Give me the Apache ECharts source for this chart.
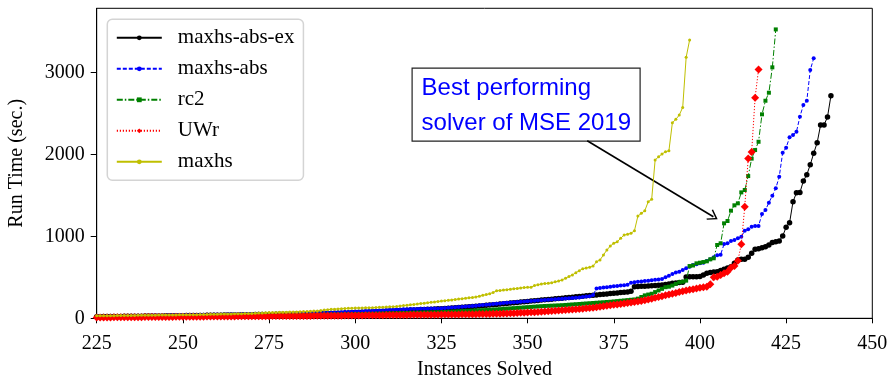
<!DOCTYPE html>
<html>
<head>
<meta charset="utf-8">
<script src="https://cdn.jsdelivr.net/npm/echarts@6/dist/echarts.min.js"></script>
<style>
  html, body { margin: 0; padding: 0; background: #fff; }
  #chart { width: 891px; height: 378px; }
</style>
</head>
<body>
<div id="chart"></div>
<script>
// Cactus plot: run time of the n-th solved instance for each solver.
// Every series starts at instance number FIRST_SOLVED and advances by one.
const FIRST_SOLVED = 225;

const solverNames = ['maxhs-abs-ex', 'maxhs-abs', 'rc2', 'UWr', 'maxhs'];

const maxhsAbsEx = [
  20,20,21,21,22,22,23,23,24,24,
  25,25,26,26,27,27,28,28,29,29,
  30,30,31,31,32,32,33,33,34,34,
  35,35,36,37,37,38,38,39,40,40,
  41,41,42,43,43,44,45,45,46,46,
  47,47,48,48,49,49,50,50,51,51,
  52,53,54,55,56,57,58,59,60,61,
  62,63,64,66,68,70,72,73,75,76,
  78,80,82,84,86,88,90,92,94,96,
  98,100,102,104,106,108,110,112,114,116,
  118,120,123,126,129,132,135,138,141,144,
  147,150,154,158,162,166,170,174,178,182,
  186,190,194,198,202,206,210,214,218,222,
  226,230,234,238,242,246,250,254,258,262,
  266,270,274,278,282,286,290,294,298,302,
  306,310,314,318,322,330,386,388,390,392,
  395,398,401,404,408,412,420,427,432,436,
  440,505,506,507,508,510,530,550,560,565,
  570,585,600,615,630,671,712,720,722,745,
  793,843,850,862,875,895,925,935,945,1005,
  1111,1167,1424,1534,1536,1676,1754,1876,2015,2144,
  2360,2362,2458,2718
];

const maxhsAbs = [
  22,23,23,24,25,25,26,27,27,28,
  29,29,30,31,31,32,33,33,34,35,
  35,36,37,37,38,39,39,40,41,41,
  42,43,43,44,45,46,47,47,48,49,
  50,50,51,52,53,53,54,55,56,56,
  57,57,58,58,59,59,60,60,61,61,
  62,63,64,65,66,67,68,69,70,72,
  74,75,77,78,80,82,84,86,88,90,
  92,94,96,98,100,102,104,106,108,110,
  112,113,114,115,116,117,118,119,120,121,
  122,125,128,131,134,137,140,143,146,150,
  154,158,162,166,170,174,178,182,186,190,
  193,196,199,202,205,208,211,214,217,220,
  223,226,229,232,235,238,241,244,247,250,
  255,260,265,270,285,365,370,375,380,385,
  390,395,400,405,410,435,440,445,450,455,
  460,465,470,475,480,500,520,540,560,570,
  590,610,630,651,659,671,679,700,720,745,
  769,777,907,916,944,956,977,996,1070,1087,
  1118,1127,1127,1273,1322,1412,1497,1587,1729,2022,
  2083,2210,2238,2279,2462,2604,2657,3032,3175
];

const rc2 = [
  15,15,16,16,17,17,18,18,19,19,
  20,20,21,21,22,22,23,23,24,24,
  25,25,26,26,27,27,28,28,29,29,
  30,30,31,31,32,32,33,33,34,34,
  35,35,35,36,36,36,37,37,37,38,
  38,38,38,39,39,39,39,40,40,40,
  41,41,42,42,43,43,44,44,45,45,
  46,46,47,48,49,50,51,52,53,54,
  55,56,57,58,59,60,61,62,63,64,
  65,66,67,68,69,70,71,72,73,74,
  75,77,79,81,83,85,87,89,91,93,
  95,97,99,101,103,106,109,112,115,118,
  121,124,127,130,133,136,139,142,145,148,
  150,152,154,156,158,160,163,166,169,172,
  175,178,181,184,187,190,193,196,199,202,
  206,210,214,218,222,226,230,240,260,280,
  290,300,320,340,360,380,386,400,420,440,
  447,460,638,645,671,679,687,696,720,733,
  895,916,1160,1188,1314,1380,1404,1538,1567,1737,
  1950,2055,2156,2491,2657,2755,3065,3528
];

const uwr = [
  10,10,11,11,11,12,12,12,13,13,
  13,14,14,14,15,15,15,16,16,16,
  17,17,17,18,18,18,19,19,19,20,
  20,20,21,21,21,22,22,22,23,23,
  23,24,24,24,25,25,25,26,26,26,
  26,27,27,27,27,28,28,28,28,28,
  29,29,29,30,30,30,31,31,31,32,
  32,32,33,33,34,34,35,35,36,36,
  37,37,38,38,39,39,40,40,41,41,
  41,42,42,42,43,43,43,44,44,44,
  45,45,46,46,47,47,48,48,49,49,
  50,51,52,53,54,55,56,57,58,59,
  61,63,65,67,69,71,73,75,77,79,
  82,85,88,91,94,97,100,103,106,110,
  114,118,122,126,130,134,140,146,152,158,
  164,170,176,182,188,194,200,206,212,220,
  230,240,250,260,270,280,290,300,310,321,
  330,340,348,356,364,372,380,386,415,500,
  508,529,549,569,618,638,703,903,1363,1953,
  2030,2694,3040
];

const maxhs = [
  30,30,31,31,32,32,33,33,34,34,
  35,35,36,36,37,37,38,38,39,39,
  40,40,41,41,42,42,43,43,44,44,
  45,46,47,48,49,50,51,52,53,54,
  55,56,57,58,59,60,62,64,66,68,
  70,71,72,73,74,75,76,77,78,80,
  82,84,86,88,90,95,100,105,110,112,
  115,118,120,122,124,125,126,127,128,129,
  130,132,134,136,138,140,142,145,150,155,
  160,165,170,175,180,185,190,195,200,205,
  210,215,220,225,230,235,240,245,250,255,
  260,270,280,290,300,315,335,340,345,350,
  355,360,365,370,375,378,380,400,410,420,
  425,427,435,445,455,468,490,510,530,557,
  581,606,614,623,638,691,712,773,834,883,
  916,935,977,1017,1026,1038,1070,1249,1282,1314,
  1424,1453,1933,1973,2006,2034,2046,2388,2430,2482,
  2576,3187,3398
];

const xTicks = { min: 225, max: 450, step: 25 };
const yTicks = { min: 0, max: 3786, step: 1000 };

// Arrow of the call-out, in data units (instances, seconds)
const calloutFrom = [367.3, 2168];
const calloutTo = [403.9, 1240];

function pairs(values) {
  return values.map((v, i) => [FIRST_SOLVED + i, v]);
}

const serif = 'Liberation Serif, Times New Roman, serif';

const styles = [
  { color: '#000000', symbol: 'circle', size: 5.5, line: 'solid' },
  { color: '#0000ff', symbol: 'circle', size: 4, line: [4, 2] },
  { color: '#008000', symbol: 'rect', size: 4, line: [6, 2, 1.5, 2] },
  { color: '#ff0000', symbol: 'diamond', size: 8, line: [1.2, 1.8] },
  { color: '#bfbf00', symbol: 'circle', size: 3, line: 'solid' }
];
const seriesValues = [maxhsAbsEx, maxhsAbs, rc2, uwr, maxhs];

const series = seriesValues.map((vals, k) => ({
  name: solverNames[k],
  type: 'line',
  data: pairs(vals),
  symbol: styles[k].symbol,
  symbolSize: styles[k].size,
  showAllSymbol: true,
  itemStyle: { color: styles[k].color },
  lineStyle: { color: styles[k].color, width: 1, type: styles[k].line },
  emphasis: { disabled: true },
  z: 2 + k
}));

// Call-out arrow drawn along data coordinates
series.push({
  type: 'line',
  data: [],
  silent: true,
  markLine: {
    silent: true,
    animation: false,
    symbol: ['none', 'path://M0,0 L6,9 L5,10 L0,2.6 L-5,10 L-6,9 Z'],
    symbolSize: [12, 10],
    label: { show: false },
    lineStyle: { color: '#000', width: 1.6, type: 'solid' },
    data: [[{ coord: calloutFrom }, { coord: calloutTo }]]
  },
  z: 10
});

const chart = echarts.init(document.getElementById('chart'), null, { renderer: 'canvas' });

chart.setOption({
  animation: false,
  backgroundColor: '#fff',
  grid: {
    left: 96.7, right: 18.7, top: 8.3, bottom: 59.7,
    outerBoundsMode: 'none',
    containLabel: false,
    show: true, borderColor: '#000', borderWidth: 1, backgroundColor: 'transparent'
  },
  xAxis: {
    type: 'value',
    min: xTicks.min, max: xTicks.max, interval: xTicks.step,
    name: 'Instances Solved',
    nameLocation: 'middle',
    nameGap: 41,
    nameTextStyle: { fontFamily: serif, fontSize: 20, color: '#000' },
    axisLine: { show: true, lineStyle: { color: '#000', width: 1 } },
    axisTick: { show: true, length: 5, lineStyle: { color: '#000' } },
    axisLabel: { fontFamily: serif, fontSize: 20, color: '#000', margin: 15 },
    splitLine: { show: false }
  },
  yAxis: {
    type: 'value',
    min: yTicks.min, max: yTicks.max, interval: yTicks.step,
    name: 'Run Time (sec.)',
    nameLocation: 'middle',
    nameGap: 70,
    nameTextStyle: { fontFamily: serif, fontSize: 20, color: '#000' },
    axisLine: { show: true, lineStyle: { color: '#000', width: 1 } },
    axisTick: { show: true, length: 6, lineStyle: { color: '#000' } },
    axisLabel: { fontFamily: serif, fontSize: 20, color: '#000', margin: 12,
      showMaxLabel: false, formatter: v => String(v) },
    splitLine: { show: false }
  },
  legend: {
    data: solverNames,
    orient: 'vertical',
    left: 107.3,
    top: 19.3,
    padding: [8, 9, 8, 8.5],
    itemWidth: 45,
    itemHeight: 6,
    itemGap: 10,
    backgroundColor: '#fff',
    borderColor: '#d4d4d4',
    borderWidth: 1.5,
    borderRadius: 5,
    textStyle: { fontFamily: serif, fontSize: 21, color: '#000', padding: [0, 0, 0, 11] },
    selectedMode: false
  },
  graphic: [
    {
      type: 'group',
      left: 411.5,
      top: 67.5,
      z: 20,
      children: [
        {
          type: 'rect',
          shape: { x: 0, y: 0, width: 228, height: 73 },
          style: { fill: '#fff', stroke: '#222', lineWidth: 1.2 }
        },
        {
          type: 'text',
          x: 9.5, y: 20,
          style: { text: 'Best performing', fill: '#0000ff',
            font: '24px "Liberation Sans", Arial, sans-serif', textVerticalAlign: 'middle' }
        },
        {
          type: 'text',
          x: 9.5, y: 55,
          style: { text: 'solver of MSE 2019', fill: '#0000ff',
            font: '24px "Liberation Sans", Arial, sans-serif', textVerticalAlign: 'middle' }
        }
      ]
    }
  ],
  series: series
});
</script>
</body>
</html>
